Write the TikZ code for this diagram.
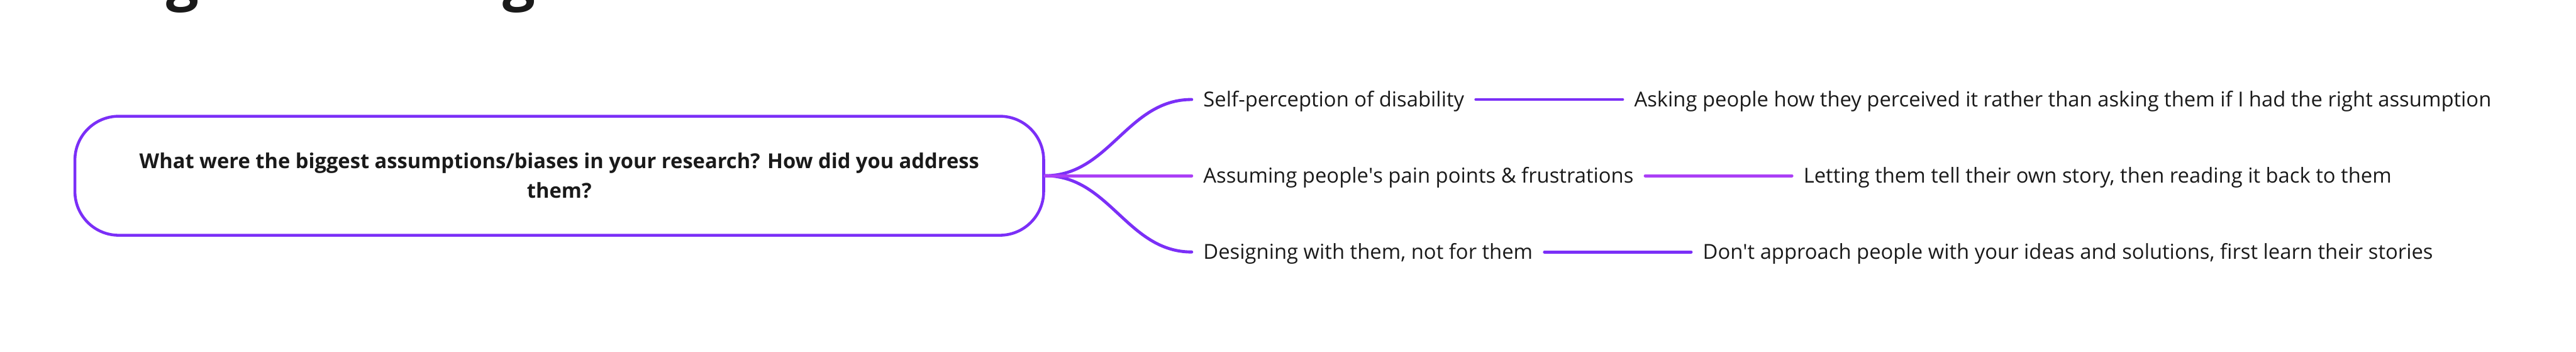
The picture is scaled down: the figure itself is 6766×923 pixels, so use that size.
\documentclass[tikz,border=0pt]{standalone}
\usepackage{fontspec}
\setmainfont{Open Sans}
\usepackage{tikz}
\usetikzlibrary{positioning}

\definecolor{mapviolet}{HTML}{7B2FF7}
\definecolor{maporchid}{HTML}{AB3FF6}
\definecolor{mapink}{HTML}{1A1A1A}

\begin{document}
\begin{tikzpicture}[
    x=0.01cm, y=-0.01cm,
    question/.style={rectangle, draw=mapviolet, line width=0.075cm, rounded corners=1.15cm, minimum width=25.43cm, minimum height=3.12cm, align=center, text=mapink, font=\fontsize{15.35}{22}\selectfont\bfseries},
    topic/.style={inner sep=0pt, text height=0.39cm, text depth=0pt, text=mapink, font=\fontsize{15.4}{18}\selectfont},
    heading/.style={anchor=base, inner sep=0pt, text=mapink, font=\fontsize{43}{50}\selectfont\bfseries},
    branch/.style={line width=0.08cm, line cap=round, draw=mapviolet}
]
\useasboundingbox (0,0) rectangle (6766,923);
\clip (0,0) rectangle (6766,923);

% Title, cut off at the top
\node[heading] (titleg1) at (480,-2) {g};
\node[heading] (titleg2) at (1364,-2) {g};

% Nodes
\node[question] (question) at (1469,461) {
    What were the biggest assumptions/biases in your research? How did you address \\
    them?
};

\node[topic, anchor=west] (selfview) at (3160,261) {Self-perception of disability};
\node[topic, anchor=west] (painpoints) at (3160,461) {Assuming people\textquotesingle s pain points \& frustrations};
\node[topic, anchor=west] (designwith) at (3160,661) {Designing with them, not for them};

\node[topic, right=4.45cm of selfview] (askhow) {Asking people how they perceived it rather than asking them if I had the right assumption};
\node[topic, right=4.45cm of painpoints] (ownstory) {Letting them tell their own story, then reading it back to them};
\node[topic, right=4.45cm of designwith] (learnfirst) {Don\textquotesingle t approach people with your ideas and solutions, first learn their stories};

% Connectors
\draw[branch] (question.east) to[out=0, in=180] ([xshift=-0.3cm]selfview.west);
\draw[branch] (question.east) to[out=0, in=180] ([xshift=-0.3cm]designwith.west);
\draw[branch, draw=maporchid] (question.east) -- ([xshift=-0.3cm]painpoints.west);

\draw[branch] ([xshift=0.3cm]selfview.east) -- ([xshift=-0.3cm]askhow.west);
\draw[branch, draw=maporchid] ([xshift=0.3cm]painpoints.east) -- ([xshift=-0.3cm]ownstory.west);
\draw[branch] ([xshift=0.3cm]designwith.east) -- ([xshift=-0.3cm]learnfirst.west);

\end{tikzpicture}
\end{document}
